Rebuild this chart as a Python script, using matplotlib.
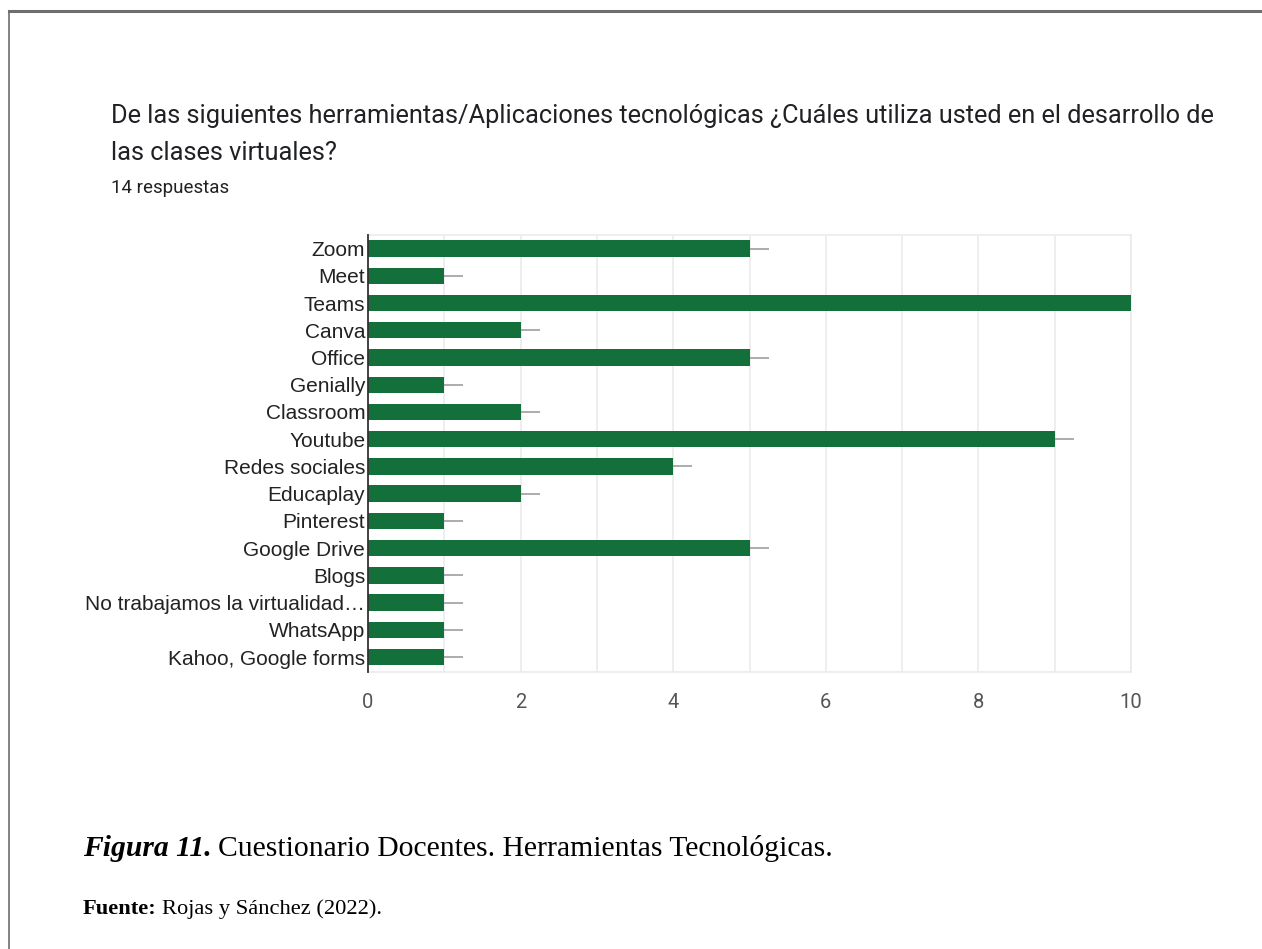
import matplotlib
matplotlib.use("Agg")
from matplotlib import pyplot as plt
from matplotlib.lines import Line2D

# datos
herramientas = ["Zoom", "Meet", "Teams", "Canva", "Office", "Genially", "Classroom",
                "Youtube", "Redes sociales", "Educaplay", "Pinterest", "Google Drive",
                "Blogs", "No trabajamos la virtualidad\u2026", "WhatsApp", "Kahoo, Google forms"]
respuestas = [5, 1, 10, 2, 5, 1, 2, 9, 4, 2, 1, 5, 1, 1, 1, 1]
x_ticks = [0, 2, 4, 6, 8, 10]

titulo = ("De las siguientes herramientas/Aplicaciones tecnológicas ¿Cuáles utiliza usted en el desarrollo de\n"
          "las clases virtuales?")
subtitulo = "14 respuestas"

verde = "#14703a"

fig = plt.figure(figsize=(12.62, 9.49), dpi=100)

# marco exterior
fig.add_artist(Line2D([9 / 1262, 1], [1 - 11 / 949, 1 - 11 / 949], color="#6e6e6e", lw=2.2, transform=fig.transFigure))
fig.add_artist(Line2D([9 / 1262, 9 / 1262], [0, 1 - 11 / 949], color="#6e6e6e", lw=1.2, transform=fig.transFigure))

fig.text(111 / 1262, 1 - 104 / 949, titulo, fontsize=18.3, family="Roboto", color="#202124",
         va="top", ha="left", linespacing=1.7)
fig.text(111 / 1262, 1 - 179 / 949, subtitulo, fontsize=13.5, family="Roboto", color="#202124",
         va="top", ha="left")

ax = fig.add_axes([368 / 1262, 1 - 672 / 949, (1131 - 368) / 1262, (672 - 235) / 949])
y = list(range(len(herramientas)))
ax.barh(y, respuestas, height=0.6, color=verde, zorder=3)
# pequeñas barras grises tras cada barra
ax.hlines(y, respuestas, [v + 0.25 for v in respuestas], color="#9e9e9e", lw=1.2, zorder=2)

ax.set_xlim(0, 10)
ax.set_ylim(15.55, -0.5)
ax.set_yticks(y)
ax.set_yticklabels(herramientas, family="Liberation Sans", fontsize=15, color="#222222")
ax.set_xticks(x_ticks)
ax.set_xticklabels([str(t) for t in x_ticks], family="Roboto", fontsize=14.5, color="#555555")
ax.tick_params(axis="y", length=0, pad=2)
ax.tick_params(axis="x", length=0, pad=15)

for xv in range(1, 11):
    ax.axvline(xv, color="#ebebeb", lw=1.2, zorder=1)
for s in ["top", "right", "bottom"]:
    ax.spines[s].set_color("#ebebeb")
    ax.spines[s].set_linewidth(1.2)
ax.spines["left"].set_color("#333333")
ax.spines["left"].set_linewidth(1.3)
ax.spines["left"].set_zorder(4)


# pie de figura: la parte en negrita y luego el resto, uno tras otro
def texto_seguido(x_px, y_px, partes, size):
    fig.canvas.draw()
    r = fig.canvas.get_renderer()
    x = x_px
    for txt, kw in partes:
        t = fig.text(x / 1262, 1 - y_px / 949, txt, family="Liberation Serif", fontsize=size,
                     va="baseline", ha="left", color="black", **kw)
        x = t.get_window_extent(renderer=r).x1 + size * 0.3


texto_seguido(83, 856, [("Figura 11.", dict(fontweight="bold", fontstyle="italic")),
                        ("Cuestionario Docentes. Herramientas Tecnológicas.", {})], 21.3)
texto_seguido(83, 914, [("Fuente:", dict(fontweight="bold")),
                        ("Rojas y Sánchez (2022).", {})], 16.2)

fig.savefig("out.png", dpi=100)
